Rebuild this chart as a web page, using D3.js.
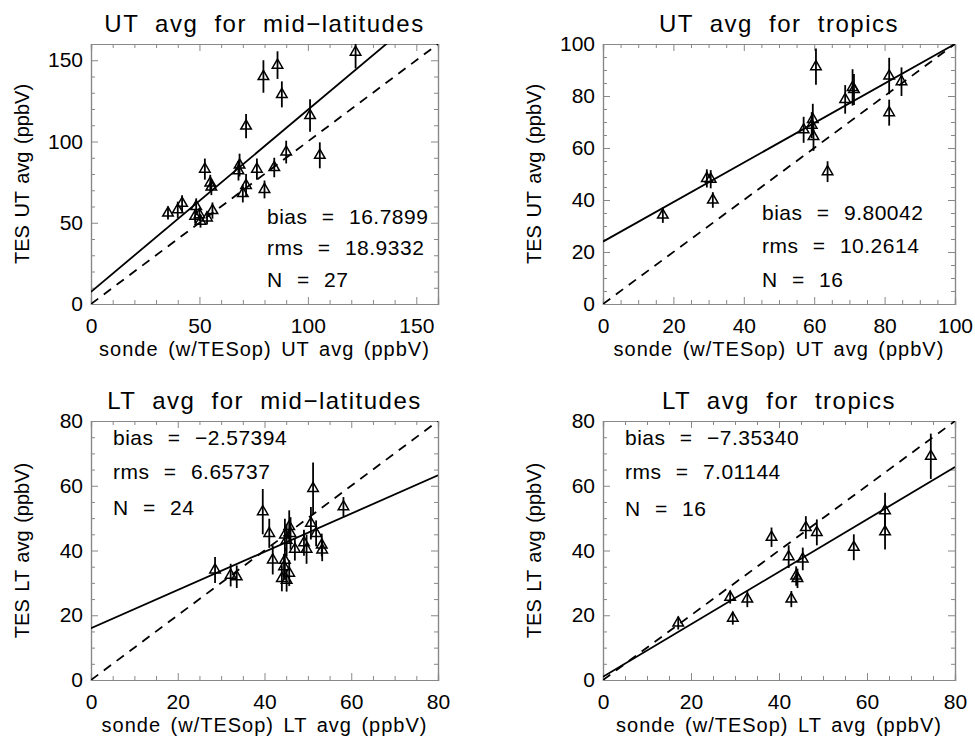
<!DOCTYPE html>
<html>
<head>
<meta charset="utf-8">
<script src="https://cdn.jsdelivr.net/npm/d3@7"></script>
<style>
  body { margin: 0; background: #fff; }
  svg text { font-family: "Liberation Sans", Arial, sans-serif; fill: #000; }
</style>
</head>
<body>
<div id="chart"></div>
<script>
// ---- data ----
const titles = ["UT avg for mid\u2212latitudes", "UT avg for tropics", "LT avg for mid\u2212latitudes", "LT avg for tropics"];
const xTitles = ["sonde (w/TESop) UT avg (ppbV)", "sonde (w/TESop) UT avg (ppbV)", "sonde (w/TESop) LT avg (ppbV)", "sonde (w/TESop) LT avg (ppbV)"];
const yTitles = ["TES UT avg (ppbV)", "TES UT avg (ppbV)", "TES LT avg (ppbV)", "TES LT avg (ppbV)"];
const axisMax = [160, 100, 80, 80];
const majorStep = [50, 20, 20, 20];
const minorStep = [10, 5, 5, 5];

const utMidX = [122, 79.5, 86, 88, 101, 71.5, 90, 105.5, 68.5, 76.5, 84.5, 52.5, 55, 55.5, 71.5, 70, 80, 42, 40, 35.5, 48.5, 48, 50.5, 53.5, 56, 50, 68];
const utMidY = [155, 140, 147, 129, 116, 109.5, 93.5, 91.5, 85.5, 83, 84, 83, 74.5, 72, 73, 68, 70.5, 62, 58, 56, 60, 54, 51, 53, 57.5, 55, 82];
const utMidErr = [10, 10, 8.5, 8, 10, 7.5, 7, 8, 7, 6.5, 6, 6.5, 5, 5, 7, 5.5, 5.5, 5, 5, 4, 5, 4.5, 4, 4, 5, 4, 6];

const utTropX = [17, 29.5, 30.6, 31.2, 57, 59.3, 59.6, 59.8, 60.5, 63.8, 68.8, 70.9, 71.3, 81.3, 81.3, 84.8];
const utTropY = [34.2, 48.3, 48, 40, 67, 68.8, 71, 64.4, 91.3, 50.9, 78.7, 83.3, 82.5, 87.7, 73.6, 85.5];
const utTropErr = [3, 3.5, 3.5, 3, 5, 5, 6, 5.5, 7, 4, 5.5, 7, 6, 7, 5, 5.5];

const ltMidX = [28.6, 32.2, 33.6, 39.6, 41.1, 41.9, 44, 44.5, 44.7, 45.1, 45.7, 45.7, 46, 47, 49.1, 49.7, 50.7, 51.2, 51.9, 53.2, 53.3, 58.2, 44.7, 45.1];
const ltMidY = [34, 32.4, 31.9, 52, 45.3, 37.1, 31.4, 35, 44.8, 43.2, 47.4, 33, 45.3, 40.4, 42.4, 40.4, 48.4, 59.2, 45.3, 41.7, 40.2, 53.5, 37, 30.8];
const ltMidErr = [4, 3.5, 3.5, 7, 4.5, 4.5, 4, 4, 5, 5, 5, 4, 5, 3.5, 4, 4.5, 5, 8, 4, 3.5, 3.5, 3, 4, 3.5];

const ltTropX = [17.1, 28.9, 29.5, 32.8, 38.3, 42.2, 42.8, 43.9, 44.2, 45.4, 46.1, 48.6, 57, 64.1, 64.1, 74.5];
const ltTropY = [17.6, 25.6, 19.1, 25, 44.1, 38.1, 25, 32.1, 31.4, 37.4, 47.1, 45.6, 41, 52.3, 45.8, 69.1];
const ltTropErr = [2, 2, 2, 2.5, 3, 3.5, 2.5, 3, 3, 3.5, 3.5, 4, 4, 5.5, 5.5, 7];

// fitted line: [intercept, slope]
const fitLines = [[7.5, 1.12], [24, 0.76], [16, 0.59], [1, 0.81]];
const statTexts = [
    ["bias = 16.7899", "rms = 18.9332", "N = 27"],
    ["bias = 9.80042", "rms = 10.2614", "N = 16"],
    ["bias = \u22122.57394", "rms = 6.65737", "N = 24"],
    ["bias = \u22127.35340", "rms = 7.01144", "N = 16"]
];

const seriesX = [utMidX, utTropX, ltMidX, ltTropX];
const seriesY = [utMidY, utTropY, ltMidY, ltTropY];
const seriesErr = [utMidErr, utTropErr, ltMidErr, ltTropErr];

// ---- layout ----
const width = 975, height = 741;
const frames = [
    {left: 91, right: 438, top: 44, bottom: 304},
    {left: 603, right: 955, top: 44, bottom: 304},
    {left: 91, right: 438, top: 421, bottom: 680},
    {left: 603, right: 955, top: 421, bottom: 680}
];
// stats text placement relative to frame (x offset, first baseline, line gaps)
const statPos = [
    {dx: 176, dy: [180, 211, 243]},
    {dx: 159, dy: [176, 209, 243]},
    {dx: 22, dy: [24, 58, 94]},
    {dx: 22, dy: [24, 58, 95]}
];

const frameColor = "#888";

const svg = d3.select("#chart")
    .append("svg")
    .attr("width", width)
    .attr("height", height);

frames.forEach((f, i) => {
    const w = f.right - f.left;
    const h = f.bottom - f.top;

    const x = d3.scaleLinear().domain([0, axisMax[i]]).range([0, w]);
    const y = d3.scaleLinear().domain([0, axisMax[i]]).range([h, 0]);

    const g = svg.append("g")
        .attr("transform", `translate(${f.left},${f.top})`);

    g.append("clipPath")
        .attr("id", "clip" + i)
        .append("rect")
        .attr("width", w)
        .attr("height", h);

    const majors = d3.range(0, axisMax[i] + 0.001, majorStep[i]);
    const minors = d3.range(0, axisMax[i] + 0.001, minorStep[i]).filter(v => v % majorStep[i] != 0);

    // bottom axis with labels
    const bottom = g.append("g")
        .attr("transform", `translate(0,${h})`)
        .call(d3.axisBottom(x).tickValues(majors).tickSize(-7).tickPadding(14).tickFormat(d3.format("d")));
    g.append("g")
        .attr("transform", `translate(0,${h})`)
        .call(d3.axisBottom(x).tickValues(minors).tickSize(-4).tickFormat(""));
    // top axis
    g.append("g")
        .call(d3.axisTop(x).tickValues(majors).tickSize(-7).tickFormat(""));
    g.append("g")
        .call(d3.axisTop(x).tickValues(minors).tickSize(-4).tickFormat(""));
    // left axis with labels
    const left = g.append("g")
        .call(d3.axisLeft(y).tickValues(majors).tickSize(-7).tickPadding(8).tickFormat(d3.format("d")));
    g.append("g")
        .call(d3.axisLeft(y).tickValues(minors).tickSize(-4).tickFormat(""));
    // right axis
    g.append("g")
        .attr("transform", `translate(${w},0)`)
        .call(d3.axisRight(y).tickValues(majors).tickSize(-7).tickFormat(""));
    g.append("g")
        .attr("transform", `translate(${w},0)`)
        .call(d3.axisRight(y).tickValues(minors).tickSize(-4).tickFormat(""));

    g.selectAll(".domain").attr("stroke", frameColor).attr("stroke-width", 1.2);
    g.selectAll(".tick line").attr("stroke", frameColor).attr("stroke-width", 1);
    g.selectAll(".tick text")
        .attr("font-size", 21)
        .attr("font-family", "Liberation Sans, Arial, sans-serif")
        .attr("fill", "#000");

    // 1:1 dashed line
    const plot = g.append("g").attr("clip-path", `url(#clip${i})`);
    plot.append("line")
        .attr("x1", x(0)).attr("y1", y(0))
        .attr("x2", x(axisMax[i])).attr("y2", y(axisMax[i]))
        .attr("stroke", "#000")
        .attr("stroke-width", 1.8)
        .attr("stroke-dasharray", "9,7");

    // fit line
    const [b0, b1] = fitLines[i];
    plot.append("line")
        .attr("x1", x(0)).attr("y1", y(b0))
        .attr("x2", x(axisMax[i])).attr("y2", y(b0 + b1 * axisMax[i]))
        .attr("stroke", "#000")
        .attr("stroke-width", 1.8);

    const pts = seriesX[i].map((v, k) => ({x: v, y: seriesY[i][k], e: seriesErr[i][k]}));

    // error bars
    plot.selectAll("line.err")
        .data(pts)
        .enter()
        .append("line")
        .attr("class", "err")
        .attr("x1", d => x(d.x)).attr("x2", d => x(d.x))
        .attr("y1", d => y(d.y - d.e)).attr("y2", d => y(d.y + d.e))
        .attr("stroke", "#000")
        .attr("stroke-width", 1.8);

    // triangles
    plot.selectAll("path.tri")
        .data(pts)
        .enter()
        .append("path")
        .attr("class", "tri")
        .attr("transform", d => `translate(${x(d.x)},${y(d.y)})`)
        .attr("d", d3.symbol(d3.symbolTriangle).size(48))
        .attr("fill", "none")
        .attr("stroke", "#000")
        .attr("stroke-width", 1.5);

    // title
    g.append("text")
        .attr("x", w / 2)
        .attr("y", -12)
        .attr("text-anchor", "middle")
        .attr("font-size", 24)
        .attr("letter-spacing", 1.5)
        .attr("word-spacing", 8)
        .text(titles[i]);

    // x axis title
    g.append("text")
        .attr("x", w / 2)
        .attr("y", h + 52)
        .attr("text-anchor", "middle")
        .attr("font-size", 20)
        .attr("letter-spacing", 1)
        .attr("word-spacing", 3)
        .text(xTitles[i]);

    // y axis title
    g.append("text")
        .attr("transform", `translate(${-62},${h / 2}) rotate(-90)`)
        .attr("text-anchor", "middle")
        .attr("font-size", 20)
        .attr("word-spacing", 2)
        .text(yTitles[i]);

    // stats
    g.selectAll("text.stat")
        .data(statTexts[i])
        .enter()
        .append("text")
        .attr("class", "stat")
        .attr("x", statPos[i].dx)
        .attr("y", (_, k) => statPos[i].dy[k])
        .attr("font-size", 21)
        .attr("letter-spacing", 0.5)
        .attr("word-spacing", 8)
        .style("white-space", "pre")
        .text(d => d);
});
</script>
</body>
</html>
